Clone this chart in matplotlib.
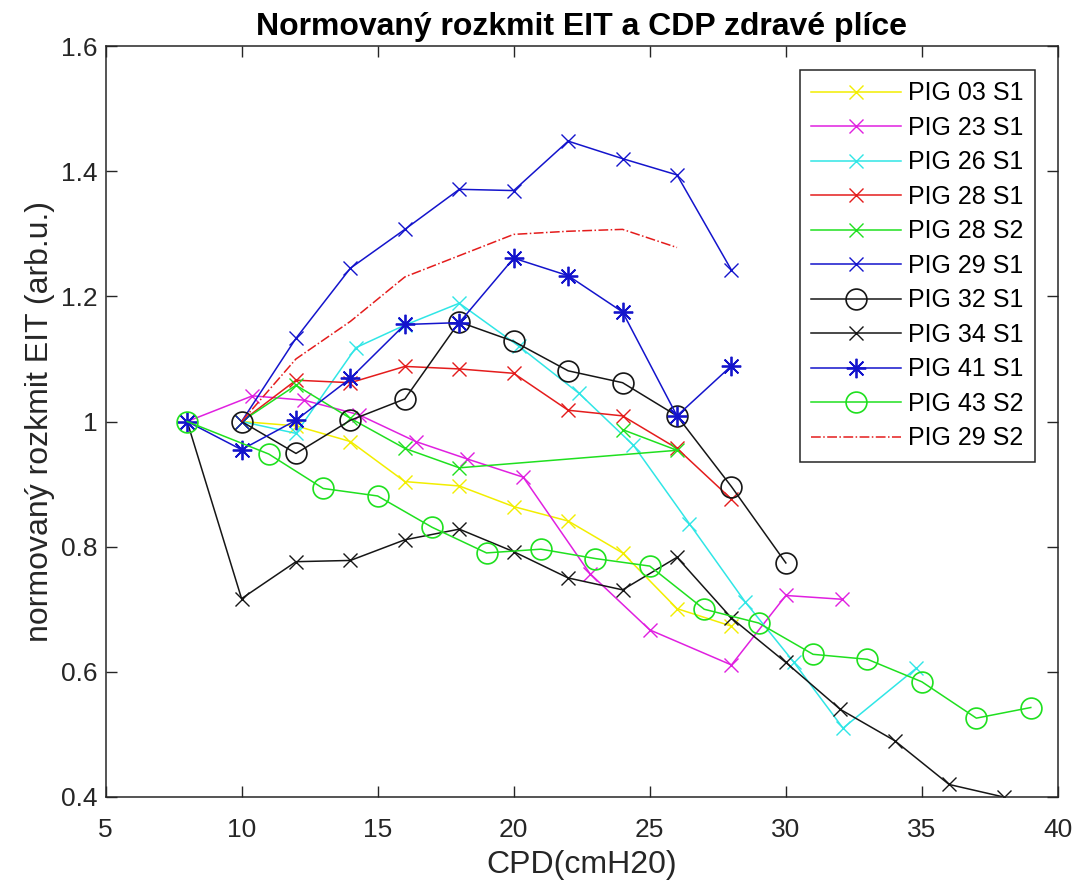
import matplotlib
matplotlib.use("Agg")
import matplotlib.pyplot as plt

plt.rcParams['font.family'] = ['Liberation Sans', 'DejaVu Sans']

# --- data: normalised EIT swing vs. CPD pressure ---
pig03_s1_x = [10, 12, 14, 16, 18, 20, 22, 24, 26, 28]
pig03_s1_y = [1.0, 0.993, 0.968, 0.904, 0.897, 0.864, 0.841, 0.790, 0.701, 0.673]

pig23_s1_x = [8, 10.4, 12.3, 14.3, 16.4, 18.3, 20.35, 22.8, 25.0, 28.0, 30.0, 32.05]
pig23_s1_y = [1.0, 1.041, 1.034, 1.011, 0.968, 0.940, 0.911, 0.757, 0.667, 0.611, 0.722, 0.716]

pig26_s1_x = [10, 12, 14.2, 16, 18, 20.2, 22.4, 24.4, 26.45, 28.5, 30.3, 32.1, 34.8]
pig26_s1_y = [1.0, 0.981, 1.118, 1.154, 1.189, 1.120, 1.045, 0.962, 0.837, 0.712, 0.615, 0.510, 0.606]

pig28_s1_x = [10, 12, 14, 16, 18, 20, 22, 24, 26, 28]
pig28_s1_y = [1.0, 1.066, 1.062, 1.088, 1.084, 1.077, 1.018, 1.009, 0.957, 0.876]

pig28_s2_x = [10, 12, 14, 16, 18, 26, 24]
pig28_s2_y = [1.0, 1.058, 1.005, 0.957, 0.926, 0.954, 0.987]

pig29_s1_x = [10, 12, 14, 16, 18, 20, 22, 24, 26, 28]
pig29_s1_y = [1.0, 1.133, 1.245, 1.307, 1.371, 1.369, 1.448, 1.420, 1.394, 1.242]

pig32_s1_x = [10, 12, 14, 16, 18, 20, 22, 24, 26, 28, 30]
pig32_s1_y = [1.0, 0.949, 1.002, 1.036, 1.159, 1.128, 1.081, 1.062, 1.009, 0.896, 0.774]

pig34_s1_x = [8, 10, 12, 14, 16, 18, 20, 22, 24, 26, 28, 30, 32, 34, 36, 38]
pig34_s1_y = [1.0, 0.717, 0.776, 0.778, 0.811, 0.828, 0.792, 0.750, 0.731, 0.783,
              0.686, 0.615, 0.540, 0.490, 0.420, 0.400]

pig41_s1_x = [8, 10, 12, 14, 16, 18, 20, 22, 24, 26, 28]
pig41_s1_y = [1.0, 0.955, 1.002, 1.069, 1.155, 1.158, 1.261, 1.233, 1.175, 1.009, 1.089]

pig43_s2_x = [8, 11, 13, 15, 17, 19, 21, 23, 25, 27, 29, 31, 33, 35, 37, 39]
pig43_s2_y = [1.0, 0.948, 0.893, 0.881, 0.831, 0.790, 0.796, 0.781, 0.769, 0.700,
              0.678, 0.628, 0.620, 0.584, 0.526, 0.543]

pig29_s2_x = [10, 12, 14, 16, 18, 20, 22, 24, 26]
pig29_s2_y = [1.0, 1.10, 1.16, 1.231, 1.265, 1.299, 1.304, 1.307, 1.278]

x_ticks = [5, 10, 15, 20, 25, 30, 35, 40]
y_ticks = [0.4, 0.6, 0.8, 1.0, 1.2, 1.4, 1.6]
y_tick_labels = ['0.4', '0.6', '0.8', '1', '1.2', '1.4', '1.6']

# --- styling ---
YEL = '#f2ee00'
MAG = '#e020e0'
CYA = '#30e6e6'
RED = '#e41c1c'
GRN = '#1fe01f'
BLU = '#1414cc'
BLK = '#161616'
AXC = '#262626'
ASTERISK = (8, 2, 0)

fig = plt.figure(figsize=(10.81, 8.90), dpi=100)
ax = fig.add_axes([105.5 / 1081, 1 - 797 / 890, (1058 - 105.5) / 1081, (797 - 46) / 890])

lw = 1.1
xs = 10
os_ = 15
ast = 14

ax.plot(pig03_s1_x, pig03_s1_y, color=YEL, marker='x', ms=xs, lw=lw, label='PIG 03 S1')
ax.plot(pig23_s1_x, pig23_s1_y, color=MAG, marker='x', ms=xs, lw=lw, label='PIG 23 S1')
ax.plot(pig26_s1_x, pig26_s1_y, color=CYA, marker='x', ms=xs, lw=lw, label='PIG 26 S1')
ax.plot(pig28_s1_x, pig28_s1_y, color=RED, marker='x', ms=xs, lw=lw, label='PIG 28 S1')
ax.plot(pig28_s2_x, pig28_s2_y, color=GRN, marker='x', ms=xs, lw=lw, label='PIG 28 S2')
ax.plot(pig29_s1_x, pig29_s1_y, color=BLU, marker='x', ms=xs, lw=lw, label='PIG 29 S1')
ax.plot(pig32_s1_x, pig32_s1_y, color=BLK, marker='o', ms=os_, mfc='none', mew=1.2,
        lw=lw, label='PIG 32 S1')
ax.plot(pig34_s1_x, pig34_s1_y, color=BLK, marker='x', ms=xs, lw=lw, label='PIG 34 S1')
ax.plot(pig41_s1_x, pig41_s1_y, color=BLU, marker=ASTERISK, ms=ast, mew=1.3, lw=lw,
        label='PIG 41 S1')
ax.plot(pig43_s2_x, pig43_s2_y, color=GRN, marker='o', ms=os_, mfc='none', mew=1.2,
        lw=lw, label='PIG 43 S2')
ax.plot(pig29_s2_x, pig29_s2_y, color=RED, ls='-.', lw=lw, label='PIG 29 S2')

ax.set_xlim(5, 40)
ax.set_ylim(0.4, 1.6)
ax.set_xticks(x_ticks)
ax.set_yticks(y_ticks)
ax.set_yticklabels(y_tick_labels)

ax.tick_params(direction='in', length=8, width=1, top=True, right=True,
               labelsize=19, colors=AXC)
ax.tick_params(axis='x', pad=15)
ax.tick_params(axis='y', pad=6)
for s in ax.spines.values():
    s.set_color(AXC)
    s.set_linewidth(1.1)

ax.set_title('Normovaný rozkmit EIT a CDP zdravé plíce', fontsize=23,
             fontweight='bold', pad=8, color='black')
ax.set_xlabel('CPD(cmH20)', fontsize=23, color=AXC, labelpad=6)
ax.set_ylabel('normovaný rozkmit EIT (arb.u.)', fontsize=23, color=AXC, labelpad=4)

leg = ax.legend(loc='upper right', bbox_to_anchor=(0.976, 0.968), borderaxespad=0,
                fontsize=18, handlelength=3.6, handletextpad=0.3, labelspacing=0.42,
                borderpad=0.45, fancybox=False, framealpha=1, edgecolor=AXC)
leg.get_frame().set_linewidth(1.1)

fig.savefig('out.png', dpi=100)
